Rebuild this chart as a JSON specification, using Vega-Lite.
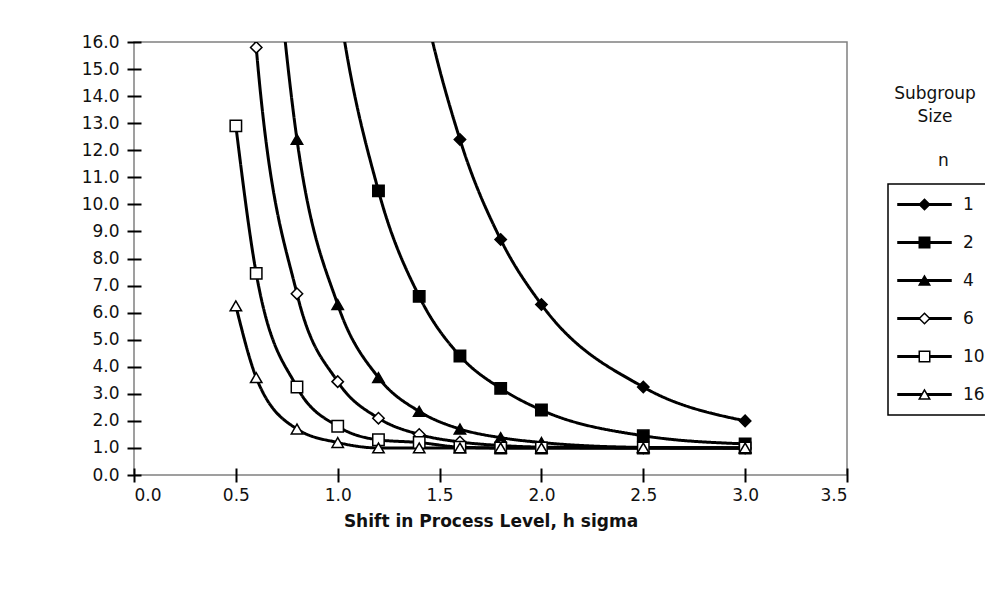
{
  "$schema": "https://vega.github.io/schema/vega-lite/v6.json",
  "width": 713,
  "height": 433,
  "autosize": {"type": "none"},
  "padding": {"left": 134, "top": 42, "right": 138, "bottom": 117},
  "background": "white",
  "config": {
    "font": "DejaVu Sans",
    "view": {"stroke": "#808080", "strokeWidth": 1.5},
    "axis": {
      "labelFont": "DejaVu Sans",
      "labelFontSize": 17,
      "labelColor": "#111",
      "domain": false,
      "tickColor": "black",
      "tickWidth": 2,
      "tickSize": 14,
      "offset": -7,
      "grid": false,
      "titleFont": "DejaVu Sans",
      "titleFontSize": 17,
      "titleFontWeight": "bold",
      "titleColor": "#111"
    },
    "legend": {"labelFont": "DejaVu Sans", "titleFont": "DejaVu Sans"}
  },
  "data": {
    "values": [
      {"n": 1, "h": 1.2, "arl": 27.8},
      {"n": 1, "h": 1.4, "arl": 18.3},
      {"n": 1, "h": 1.6, "arl": 12.4},
      {"n": 1, "h": 1.8, "arl": 8.7},
      {"n": 1, "h": 2.0, "arl": 6.3},
      {"n": 1, "h": 2.5, "arl": 3.25},
      {"n": 1, "h": 3.0, "arl": 2.0},
      {"n": 2, "h": 0.8, "arl": 32.0},
      {"n": 2, "h": 1.0, "arl": 17.7},
      {"n": 2, "h": 1.2, "arl": 10.5},
      {"n": 2, "h": 1.4, "arl": 6.6},
      {"n": 2, "h": 1.6, "arl": 4.4},
      {"n": 2, "h": 1.8, "arl": 3.2},
      {"n": 2, "h": 2.0, "arl": 2.4},
      {"n": 2, "h": 2.5, "arl": 1.45},
      {"n": 2, "h": 3.0, "arl": 1.15},
      {"n": 4, "h": 0.6, "arl": 27.8},
      {"n": 4, "h": 0.8, "arl": 12.4},
      {"n": 4, "h": 1.0, "arl": 6.3},
      {"n": 4, "h": 1.2, "arl": 3.6},
      {"n": 4, "h": 1.4, "arl": 2.35},
      {"n": 4, "h": 1.6, "arl": 1.7},
      {"n": 4, "h": 1.8, "arl": 1.38},
      {"n": 4, "h": 2.0, "arl": 1.2},
      {"n": 4, "h": 2.5, "arl": 1.02},
      {"n": 4, "h": 3.0, "arl": 1.0},
      {"n": 6, "h": 0.5, "arl": 26.6},
      {"n": 6, "h": 0.6, "arl": 15.8},
      {"n": 6, "h": 0.8, "arl": 6.7},
      {"n": 6, "h": 1.0, "arl": 3.45},
      {"n": 6, "h": 1.2, "arl": 2.1},
      {"n": 6, "h": 1.4, "arl": 1.5},
      {"n": 6, "h": 1.6, "arl": 1.22},
      {"n": 6, "h": 1.8, "arl": 1.09},
      {"n": 6, "h": 2.0, "arl": 1.03},
      {"n": 6, "h": 2.5, "arl": 1.0},
      {"n": 6, "h": 3.0, "arl": 1.0},
      {"n": 10, "h": 0.5, "arl": 12.9},
      {"n": 10, "h": 0.6, "arl": 7.45},
      {"n": 10, "h": 0.8, "arl": 3.25},
      {"n": 10, "h": 1.0, "arl": 1.8},
      {"n": 10, "h": 1.2, "arl": 1.3},
      {"n": 10, "h": 1.4, "arl": 1.2},
      {"n": 10, "h": 1.6, "arl": 1.03},
      {"n": 10, "h": 1.8, "arl": 1.0},
      {"n": 10, "h": 2.0, "arl": 1.0},
      {"n": 10, "h": 2.5, "arl": 1.0},
      {"n": 10, "h": 3.0, "arl": 1.0},
      {"n": 16, "h": 0.5, "arl": 6.25},
      {"n": 16, "h": 0.6, "arl": 3.6},
      {"n": 16, "h": 0.8, "arl": 1.7},
      {"n": 16, "h": 1.0, "arl": 1.2},
      {"n": 16, "h": 1.2, "arl": 1.0},
      {"n": 16, "h": 1.4, "arl": 1.0},
      {"n": 16, "h": 1.6, "arl": 1.0},
      {"n": 16, "h": 1.8, "arl": 1.0},
      {"n": 16, "h": 2.0, "arl": 1.0},
      {"n": 16, "h": 2.5, "arl": 1.0},
      {"n": 16, "h": 3.0, "arl": 1.0}
    ]
  },
  "encoding": {
    "x": {
      "field": "h",
      "type": "quantitative",
      "scale": {"domain": [0, 3.5], "nice": false, "zero": false},
      "axis": {
        "values": [0, 0.5, 1, 1.5, 2, 2.5, 3, 3.5],
        "format": ".1f",
        "title": "Shift in Process Level, h sigma",
        "labelPadding": 5,
        "titlePadding": 10
      }
    },
    "y": {
      "field": "arl",
      "type": "quantitative",
      "scale": {"domain": [0, 16], "nice": false},
      "axis": {
        "values": [0, 1, 2, 3, 4, 5, 6, 7, 8, 9, 10, 11, 12, 13, 14, 15, 16],
        "format": ".1f",
        "title": null,
        "labelPadding": 8,
        "labelOverlap": false
      }
    }
  },
  "layer": [
    {
      "mark": {"type": "line", "interpolate": "monotone", "clip": true, "strokeWidth": 3, "color": "black"},
      "encoding": {
        "detail": {"field": "n", "type": "ordinal"},
        "strokeDash": {
          "field": "n",
          "type": "ordinal",
          "scale": {"range": [[1, 0], [1, 0], [1, 0], [1, 0], [1, 0], [1, 0]]},
          "legend": {
            "orient": "none",
            "legendX": 754,
            "legendY": 142,
            "title": null,
            "padding": 12,
            "symbolType": "M-5.2,0H5.2",
            "symbolSize": 110,
            "symbolStrokeWidth": 3,
            "symbolStrokeColor": "black",
            "symbolOffset": 16,
            "labelExpr": "''",
            "labelOffset": 30,
            "labelFontSize": 17,
            "rowPadding": 20
          }
        }
      }
    },
    {
      "mark": {"type": "point", "clip": true, "filled": true, "size": 130, "strokeWidth": 1.5, "opacity": 1},
      "encoding": {
        "shape": {
          "field": "n",
          "type": "ordinal",
          "scale": {"domain": [1, 2, 4, 6, 10, 16], "range": ["diamond", "square", "triangle-up", "diamond", "square", "triangle-up"]},
          "legend": {
            "orient": "none",
            "legendX": 754,
            "legendY": 142,
            "title": null,
            "padding": 12,
            "strokeColor": "black",
            "symbolOffset": 16,
            "symbolSize": 110,
            "symbolStrokeColor": "black",
            "symbolStrokeWidth": 1.5,
            "symbolOpacity": 1,
            "labelOffset": 30,
            "labelFontSize": 17,
            "labelColor": "#111",
            "rowPadding": 20,
            "encode": {"legend": {"update": {"strokeWidth": {"value": 1.5}}}}
          }
        },
        "fill": {
          "field": "n",
          "type": "ordinal",
          "scale": {"domain": [1, 2, 4, 6, 10, 16], "range": ["black", "black", "black", "white", "white", "white"]},
          "legend": {
            "orient": "none",
            "legendX": 754,
            "legendY": 142,
            "title": null,
            "padding": 12,
            "strokeColor": "black",
            "symbolOffset": 16,
            "symbolSize": 110,
            "symbolStrokeColor": "black",
            "symbolStrokeWidth": 1.5,
            "symbolOpacity": 1,
            "labelOffset": 30,
            "labelFontSize": 17,
            "labelColor": "#111",
            "rowPadding": 20,
            "encode": {"legend": {"update": {"strokeWidth": {"value": 1.5}}}}
          }
        },
        "stroke": {
          "datum": "n",
          "scale": {"range": ["black"]},
          "legend": {
            "orient": "none",
            "legendX": 760,
            "legendY": 44,
            "title": ["Subgroup", "Size"],
            "titleFontSize": 17,
            "titleFontWeight": "normal",
            "titleColor": "#111",
            "titleAlign": "center",
            "titleAnchor": "middle",
            "titleLineHeight": 23,
            "titleBaseline": "top",
            "titlePadding": 26,
            "padding": 0,
            "symbolOpacity": 0,
            "symbolSize": 1,
            "symbolOffset": 0,
            "labelOffset": 0,
            "labelFontSize": 17,
            "labelColor": "#111"
          }
        }
      }
    },
    {
      "data": {"values": [{}]},
      "mark": {"type": "rule", "color": "black", "strokeWidth": 2},
      "encoding": {"x": {"datum": 0}, "y": {"datum": 0}, "y2": {"datum": 16}}
    },
    {
      "data": {"values": [{}]},
      "mark": {"type": "rule", "color": "black", "strokeWidth": 2},
      "encoding": {"y": {"datum": 0}, "x": {"datum": 0}, "x2": {"datum": 3.5}}
    }
  ]
}
